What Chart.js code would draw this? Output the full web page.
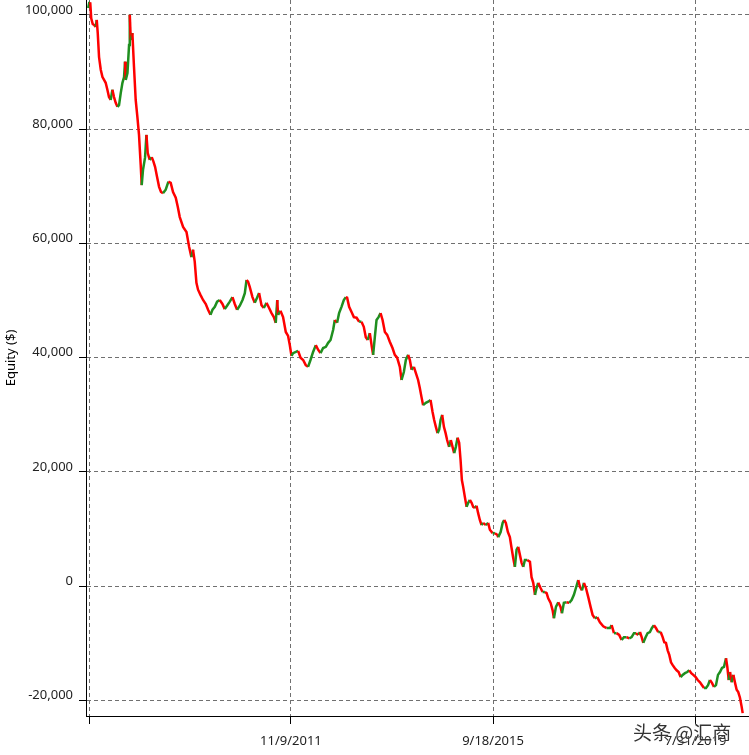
<!DOCTYPE html>
<html>
<head>
<meta charset="utf-8">
<script src="https://cdn.jsdelivr.net/npm/chart.js@4.4.1/dist/chart.umd.min.js"></script>
<style>
  body { margin: 0; background: #fff; }
  #wrap { position: relative; width: 749px; height: 755px; }
  #mark { position: absolute; left: 633px; top: 718px; font: 19px "Noto Sans CJK SC", sans-serif; color: #333; text-shadow: 0 0 2px #fff; white-space: nowrap; }
</style>
</head>
<body>
<div id="wrap">
  <canvas id="chart" width="749" height="755"></canvas>
  <div id="mark">头条 @汇商</div>
</div>
<script>
// weeks since 1/1/2008
const weeks = [
  -0.8, 0.2, 1.2, 2.2, 3.7, 5.2, 6.7, 7.7, 8.7, 10.0, 11.7, 13.4, 15.0, 16.6, 18.3, 19.9, 21.6, 23.3, 24.9, 26.6,
  28.3, 29.9, 31.6, 33.3, 34.9, 35.9, 36.6, 38.3, 39.9, 40.6, 41.6, 43.2, 44.8, 46.5, 48.2, 49.8, 51.5, 52.5, 53.8, 55.8,
  57.2, 58.5, 60.5, 62.5, 64.2, 65.8, 67.8, 69.8, 71.7, 73.7, 76.4, 79.1, 81.4, 83.7, 86.4, 88.4, 90.4, 93.7, 97.1, 99.7,
  102.0, 103.6, 105.3, 107.0, 108.6, 111.0, 113.6, 116.3, 118.6, 121.0, 123.0, 125.3, 127.6, 130.2, 132.9, 135.2, 137.5, 140.2, 142.9, 145.2,
  147.5, 150.2, 152.9, 155.2, 156.9, 158.4, 160.1, 162.8, 165.1, 167.4, 169.4, 171.8, 174.1, 176.8, 179.4, 181.8, 184.1, 186.0, 187.5, 188.3,
  190.7, 193.3, 196.0, 198.3, 200.0, 201.7, 203.3, 206.0, 208.3, 210.7, 213.3, 215.9, 218.2, 220.6, 223.2, 225.9, 228.2, 230.6, 233.2, 235.9,
  238.2, 240.6, 243.2, 244.8, 247.1, 249.1, 251.5, 253.8, 255.8, 257.1, 259.1, 261.5, 263.8, 266.5, 269.1, 271.4, 273.7, 275.7, 277.7, 279.7,
  281.7, 283.0, 284.7, 286.4, 288.4, 290.4, 292.4, 294.7, 297.0, 299.6, 302.3, 304.6, 306.9, 309.6, 311.3, 313.6, 315.6, 317.9, 319.6, 321.3,
  323.6, 325.6, 327.8, 329.5, 331.2, 332.8, 335.5, 337.8, 340.2, 342.2, 343.8, 345.5, 347.2, 348.8, 350.2, 351.8, 353.5, 355.2, 356.7, 358.7,
  360.4, 362.1, 363.7, 365.4, 367.1, 368.7, 370.1, 371.4, 372.7, 374.4, 376.1, 377.7, 379.4, 381.1, 382.7, 384.4, 386.0, 387.6, 389.3, 391.0,
  392.6, 395.3, 397.6, 399.3, 402.0, 404.3, 406.6, 407.6, 410.0, 412.0, 413.5, 415.2, 417.2, 419.2, 420.9, 422.5, 424.2, 425.9, 427.5, 429.2,
  430.9, 432.5, 434.2, 436.5, 439.2, 440.8, 442.5, 444.2, 445.8, 447.4, 449.8, 451.8, 454.1, 455.8, 457.4, 459.8, 461.8, 463.1, 465.1, 467.4,
  469.7, 471.1, 473.0, 475.7, 478.3, 480.7, 483.0, 485.0, 487.3, 489.0, 491.0, 493.0, 495.0, 497.3, 499.6, 501.6, 503.9, 506.2, 508.9, 512.2,
  515.6, 518.9, 520.6, 522.9, 525.5, 528.1, 530.5, 532.8, 535.5, 538.1, 540.5, 542.8, 544.8, 547.1, 548.8, 550.5, 552.1, 554.4, 556.4, 558.7,
  560.7, 562.7, 564.7, 567.0, 569.4, 571.4, 573.0, 574.7, 576.4, 578.0, 579.7, 581.4, 583.4, 585.3, 587.3, 589.3, 591.3, 593.6, 595.9, 597.9,
  599.9, 601.9, 604.3, 606.3, 608.6, 610.6, 612.6, 614.6, 616.6, 618.5, 620.5, 622.5, 624.5, 626.5, 628.5, 630.5, 632.5, 634.5, 635.8, 637.2,
  638.5, 640.2, 641.8, 643.5, 645.1, 646.7, 648.4, 650.1, 651.1
];

const equity = [
  101200, 102100, 102200, 99400, 98400, 98200, 97900, 99100, 96800, 92600, 90400, 89100, 88600, 88100, 86900, 85600, 85100, 86900, 85600, 84600,
  83900, 84200, 86300, 88100, 89100, 91800, 88600, 89800, 94700, 100000, 95600, 96800, 90900, 85100, 82100, 79000, 73700, 70200, 72900, 75000,
  79000, 75800, 74600, 75100, 74300, 73400, 71600, 69900, 69000, 68800, 69400, 70800, 70600, 69000, 68000, 66400, 64600, 62900, 62000, 59400,
  57600, 58900, 56800, 53100, 51900, 51000, 50100, 49400, 48400, 47500, 48400, 48900, 49800, 50100, 49400, 48500, 49100, 49800, 50600, 49400,
  48400, 49100, 50100, 51300, 53600, 53300, 52400, 50600, 49600, 50500, 51300, 49200, 48700, 49600, 48700, 47800, 47100, 46100, 50100, 47500,
  48200, 47100, 44500, 43800, 42200, 40300, 40800, 41000, 41200, 40000, 39600, 38700, 38400, 39600, 41000, 42200, 41400, 40800, 41700, 41900,
  42600, 43100, 44900, 46600, 46100, 47800, 48900, 50100, 50600, 50500, 48900, 48000, 47100, 47000, 46300, 46300, 45400, 43600, 43100, 44300,
  41900, 40500, 43600, 46600, 47100, 47800, 46600, 44500, 44000, 42800, 41700, 40500, 40000, 38400, 36100, 37500, 39600, 40500, 39600, 37900,
  38400, 37300, 36100, 34700, 33100, 31700, 32100, 32300, 32600, 30500, 29100, 27900, 26800, 27400, 29100, 30000, 27900, 26800, 25600, 24400,
  25600, 24400, 23300, 24400, 26000, 25100, 22100, 18600, 17400, 15600, 13900, 14600, 15100, 14600, 13900, 13700, 14100, 12800, 11600, 10700,
  11100, 10700, 11100, 9900, 9300, 9300, 9000, 8600, 9500, 11100, 11600, 11100, 9500, 8600, 6700, 5000, 3400, 6400, 6900, 5500,
  4100, 3400, 4600, 4600, 4300, 1600, 600, -1500, -300, 600, -300, -1000, -1000, -1200, -2100, -2900, -4200, -5600, -3600, -2800,
  -3600, -4700, -2900, -2800, -2900, -2400, -1500, -300, 1100, -100, -700, 600, -300, -1900, -3600, -5000, -5600, -5400, -6300, -7000,
  -7300, -7300, -6800, -8200, -8200, -8500, -9400, -8900, -8900, -9100, -8900, -8200, -8200, -8500, -8000, -8900, -9900, -8900, -8200, -8000,
  -7300, -6800, -7300, -8000, -8000, -8900, -9800, -9900, -11200, -12000, -13300, -13800, -14300, -14700, -15000, -15900, -15500, -15200, -15000, -14700,
  -15200, -15500, -15900, -16400, -16800, -17300, -17800, -17800, -17300, -16400, -16900, -17600, -17300, -15500, -15000, -14300, -14100, -12600, -14100, -16400,
  -15000, -16800, -15500, -16900, -18100, -18500, -19500, -21100, -22200
];

const xTickDates = [[2008, 1, 1], [2011, 11, 9], [2015, 9, 18], [2019, 7, 31]];
const xTickLabels = ['', '11/9/2011', '9/18/2015', '7/31/2019'];
const yTicks = [-20000, 0, 20000, 40000, 60000, 80000, 100000];

const WEEK = 7 * 24 * 3600 * 1000;
const origin = Date.UTC(2008, 0, 1);
const xTickValues = xTickDates.map(d => (Date.UTC(d[0], d[1] - 1, d[2]) - origin) / WEEK);

const points = weeks.map((w, i) => ({ x: w, y: equity[i] }));

const UP = '#1f8f1f';
const DOWN = '#ff0000';
const font = { family: '"Noto Sans", "Open Sans", sans-serif', size: 13 };

new Chart(document.getElementById('chart'), {
  type: 'line',
  data: {
    datasets: [{
      data: points,
      borderWidth: 2.5,
      pointRadius: 0,
      tension: 0,
      borderColor: DOWN,
      segment: {
        borderColor: ctx => ctx.p1.parsed.y >= ctx.p0.parsed.y ? UP : DOWN
      }
    }]
  },
  options: {
    responsive: false,
    animation: false,
    devicePixelRatio: 1,
    layout: { padding: 0 },
    plugins: { legend: { display: false }, tooltip: { enabled: false } },
    scales: {
      x: {
        type: 'linear',
        min: -3,
        max: 657.4,
        afterBuildTicks: s => { s.ticks = xTickValues.map(v => ({ value: v })); },
        afterFit: s => { s.height = 39; s.paddingLeft = 0; s.paddingRight = 0; },
        ticks: {
          autoSkip: false,
          maxRotation: 0,
          padding: 9,
          color: '#222',
          font: font,
          callback: (v, i) => xTickLabels[i]
        },
        grid: {
          color: '#707070',
          lineWidth: 1,
          tickLength: 8,
          tickColor: '#000',
          tickBorderDash: []
        },
        border: { display: true, color: '#000', width: 1, dash: [4, 3] }
      },
      y: {
        type: 'linear',
        min: -22695,
        max: 102590,
        afterBuildTicks: s => { s.ticks = yTicks.map(v => ({ value: v })); },
        afterFit: s => { s.width = 86; s.paddingTop = 0; s.paddingBottom = 0; },
        ticks: {
          padding: 6,
          labelOffset: -5,
          color: '#222',
          font: font,
          callback: v => v.toLocaleString('en-US')
        },
        grid: {
          color: '#707070',
          lineWidth: 1,
          tickLength: 7,
          tickColor: '#000',
          tickBorderDash: []
        },
        border: { display: true, color: '#000', width: 1, dash: [4, 3] },
        title: {
          display: true,
          text: 'Equity ($)',
          color: '#000',
          font: font,
          padding: { top: 3, bottom: 0 }
        }
      }
    }
  }
});
</script>
</body>
</html>
